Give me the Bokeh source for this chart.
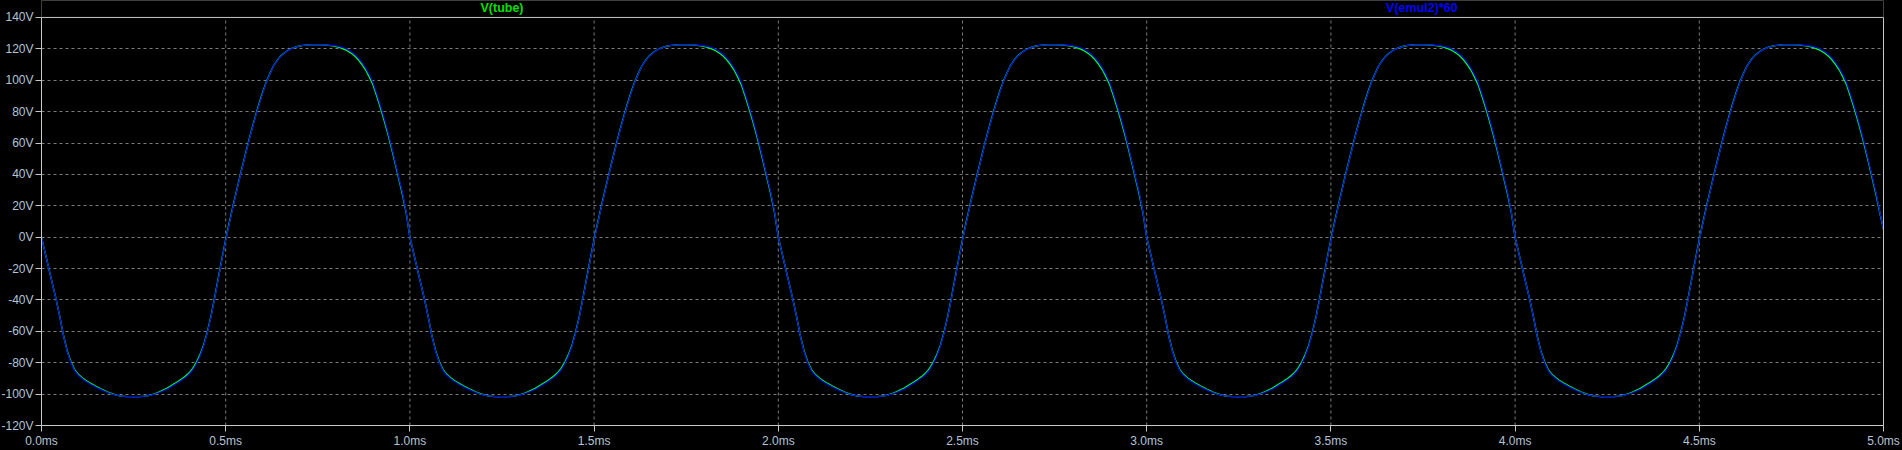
from bokeh.plotting import figure
from bokeh.models import Range1d, FixedTicker, Span, LinearAxis
from bokeh.embed import file_html
from bokeh.resources import INLINE
from bokeh.core.properties import value

period_ms = 1.0
n_periods = 5
t_step = 0.01

v_emul2_x60 = [0, -10, -20, -30, -40, -51, -63, -73, -80, -85,
               -88, -90, -91.8, -93.2, -94.5, -95.8, -97, -98, -99, -99.8,
               -100.5, -101, -101.3, -101.5, -101.6, -101.6, -101.6, -101.5, -101.3, -101,
               -100.5, -99.8, -99, -98, -97, -95.6, -94.2, -92.8, -91.2, -89.5,
               -87.5, -84.8, -81, -76, -69.5, -61, -51, -39, -26.5, -14,
               -2, 9, 19.5, 29.5, 39.5, 49, 58.5, 67.5, 76, 84,
               91.5, 98.5, 104, 109, 112.5, 115.3, 117.4, 119, 120.2, 121.1,
               121.8, 122.2, 122.4, 122.5, 122.5, 122.5, 122.5, 122.5, 122.4, 122.2,
               121.9, 121.4, 120.7, 119.7, 118.3, 116.5, 114.2, 111.3, 107.8, 103.5,
               98.5, 91.5, 84, 76, 67.5, 58, 48, 38, 28, 16]

v_tube = [0, -10, -20, -30, -40, -51, -63, -72.5, -79.4, -84.4,
          -87.4, -89.4, -91.2, -92.6, -93.9, -95.3, -96.5, -97.6, -98.7, -99.6,
          -100.4, -101, -101.3, -101.5, -101.6, -101.6, -101.6, -101.5, -101.3, -100.9,
          -100.3, -99.5, -98.6, -97.4, -96.3, -94.9, -93.4, -92, -90.4, -88.7,
          -86.6, -83.8, -80, -75, -68.8, -60.5, -50.5, -38.5, -26, -13.5,
          -1.5, 9.5, 20, 30, 40, 49.5, 59, 68, 76.5, 84.5,
          92, 98.8, 104.2, 109.2, 112.7, 115.5, 117.5, 119.1, 120.3, 121.2,
          121.8, 122.2, 122.4, 122.5, 122.5, 122.5, 122.5, 122.4, 122.2, 121.9,
          121.4, 120.8, 119.9, 118.8, 117.3, 115.4, 113, 110, 106.5, 102,
          97, 90, 82.5, 74.5, 66, 56.8, 47, 37, 27, 15.5]

end_time = 5.0
end_value_emul = 5
end_value_tube = 5

x_ticks = [0.0, 0.5, 1.0, 1.5, 2.0, 2.5, 3.0, 3.5, 4.0, 4.5, 5.0]
x_tick_labels = ["0.0ms", "0.5ms", "1.0ms", "1.5ms", "2.0ms", "2.5ms",
                 "3.0ms", "3.5ms", "4.0ms", "4.5ms", "5.0ms"]
y_ticks = [-120, -100, -80, -60, -40, -20, 0, 20, 40, 60, 80, 100, 120, 140]
y_tick_labels = ["-120V", "-100V", "-80V", "-60V", "-40V", "-20V", "0V",
                 "20V", "40V", "60V", "80V", "100V", "120V", "140V"]

series_names = ["V(tube)", "V(emul2)*60"]
series_colors = ["#00e000", "#0000ff"]
title_x_ms = [1.25, 3.747]      # where the trace names sit (centre, in ms)
title_y_v = [146, 146]           # just above the 140 V border

y_min, y_max = -120, 140
y_top_space = 150.8              # room above the plot box for the trace names

# ---- assemble the time axis (the measured period repeats) ----
t_all = []
emul_all = []
tube_all = []
for k in range(n_periods):
    for i in range(len(v_emul2_x60)):
        t_all.append(round(k * period_ms + i * t_step, 4))
        emul_all.append(v_emul2_x60[i])
        tube_all.append(v_tube[i])
t_all.append(end_time)
emul_all.append(end_value_emul)
tube_all.append(end_value_tube)

# ---- figure (shifted -8px so it can use the whole window) ----
FONT = "Liberation Sans"
frame_col = "#c8c8c8"
lab_col = "#b4c4d6"
grid_col = "#7c7c7c"

p = figure(width=1910, height=458, title=None,
           min_border_left=49, min_border_right=19, min_border_top=8, min_border_bottom=24,
           x_range=Range1d(0, 5), y_range=Range1d(y_min, y_top_space),
           output_backend="svg", toolbar_location=None,
           background_fill_color="black", border_fill_color="black")
p.margin = (-8, -8, -8, -8)
p.styles = {"margin": "-8px"}
p.outline_line_color = None

for ax in (p.xaxis[0], p.yaxis[0]):
    ax.axis_line_color = frame_col
    ax.major_tick_line_color = frame_col
    ax.minor_tick_line_color = None
    ax.major_tick_out = 6
    ax.major_tick_in = 0
    ax.major_label_text_color = lab_col
    ax.major_label_text_font = FONT
    ax.major_label_text_font_size = "12px"
    ax.major_label_standoff = 2

p.xaxis.ticker = FixedTicker(ticks=x_ticks)
p.xaxis.major_label_overrides = {t: s for t, s in zip(x_ticks, x_tick_labels)}
p.yaxis.ticker = FixedTicker(ticks=y_ticks)
p.yaxis.major_label_overrides = {t: s for t, s in zip(y_ticks, y_tick_labels)}
p.yaxis.bounds = (y_min, y_max)

# right border of the plot box
right_ax = LinearAxis(ticker=FixedTicker(ticks=[]), bounds=(y_min, y_max),
                      axis_line_color=frame_col, major_tick_line_color=None,
                      minor_tick_line_color=None, major_label_text_font_size="0px")
p.add_layout(right_ax, "right")

# top border of the plot box
p.add_layout(Span(location=y_max, dimension="width", line_color=frame_col, line_width=1))

# grid: horizontal from the axis grid, vertical drawn only inside the plot box
p.ygrid.ticker = FixedTicker(ticks=y_ticks[1:-1])
p.ygrid.grid_line_color = grid_col
p.ygrid.grid_line_dash = "3 3"
p.xgrid.grid_line_color = None
inner_x = x_ticks[1:-1]
p.segment(x0=inner_x, y0=[y_min] * len(inner_x), x1=inner_x, y1=[y_max] * len(inner_x),
          line_color=grid_col, line_dash="3 3", line_width=1)

p.line(t_all, tube_all, line_color="#00ff00", line_width=1.4)
p.line(t_all, emul_all, line_color="#0000ff", line_width=1.2)

p.text(x=title_x_ms, y=title_y_v, text=series_names, text_color=series_colors,
       text_font=value(FONT), text_font_style="bold", text_font_size="12.5px",
       text_align="center", text_baseline="middle")

open("out.html", "w").write(file_html(p, INLINE))
